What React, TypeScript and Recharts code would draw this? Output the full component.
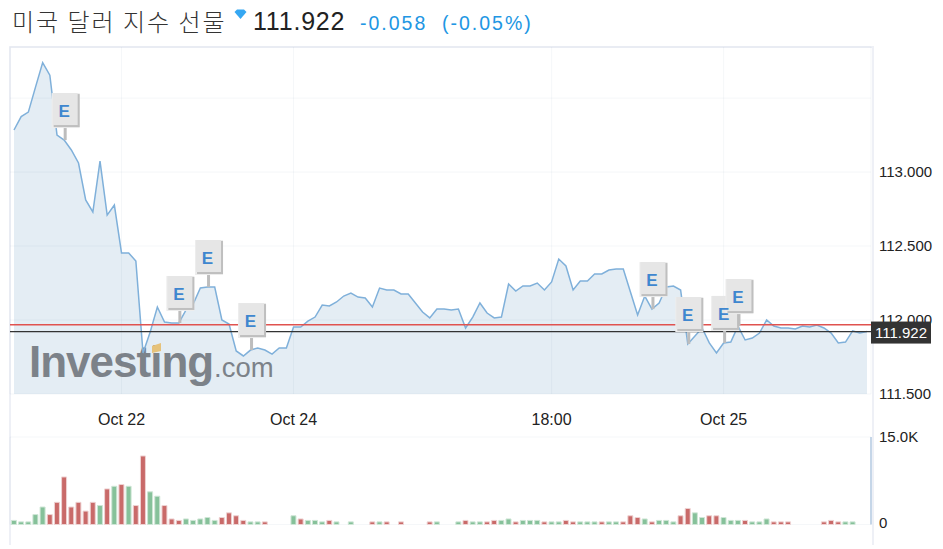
import React from "react";
import {
  Area,
  Bar,
  CartesianGrid,
  ComposedChart,
  Line,
  ReferenceDot,
  ReferenceLine,
  XAxis,
  YAxis,
} from "recharts";

const FONT = '"Liberation Sans", Arial, sans-serif';

const prices = [
  113.284, 113.375, 113.405, 113.574, 113.74, 113.655, 113.25, 113.216, 113.149, 113.061,
  112.811, 112.73, 113.074, 112.709, 112.777, 112.453, 112.453, 112.399, 111.777, 111.919,
  112.088, 111.986, 111.98, 111.98, 112.068, 112.108, 112.216, 112.223, 112.223, 112.0,
  111.973, 111.791, 111.757, 111.797, 111.811, 111.797, 111.77, 111.811, 111.811, 111.953,
  111.953, 111.993, 112.02, 112.101, 112.095, 112.122, 112.162, 112.182, 112.155, 112.149,
  112.088, 112.216, 112.203, 112.203, 112.176, 112.176, 112.115, 112.054, 112.014, 112.074,
  112.074, 112.068, 112.074, 111.946, 112.02, 112.115, 112.047, 112.014, 112.02, 112.243,
  112.196, 112.23, 112.23, 112.25, 112.203, 112.257, 112.412, 112.365, 112.203, 112.264,
  112.264, 112.311, 112.311, 112.338, 112.345, 112.345, 112.189, 112.034, 112.162, 112.074,
  112.115, 112.223, 112.23, 112.203, 111.838, 111.892, 111.946, 111.845, 111.777, 111.845,
  111.851, 111.959, 111.865, 111.878, 111.912, 112.0, 111.959, 111.946, 111.946, 111.939,
  111.959, 111.953, 111.966, 111.946, 111.912, 111.845, 111.851, 111.926, 111.912, 111.922,
];

const volumes = [
  700, 450, 450, 1700, 3000, 1700, 3800, 8150, 3000, 3800,
  2300, 3800, 3250, 6100, 6550, 6850, 6550, 3250, 11750, 5600,
  4850, 3250, 950, 700, 950, 700, 950, 1200, 700, 1200,
  2000, 1500, 700, 450, 450, 450, 0, 0, 0, 1500,
  950, 700, 700, 450, 700, 450, 0, 450, 0, 0,
  450, 450, 450, 0, 450, 0, 0, 0, 450, 450,
  0, 0, 450, 700, 450, 450, 450, 700, 700, 950,
  450, 700, 700, 700, 450, 450, 450, 700, 450, 450,
  450, 450, 450, 450, 450, 450, 1500, 1200, 950, 450,
  700, 700, 450, 1500, 2750, 2000, 1200, 1500, 1500, 1200,
  700, 700, 700, 450, 450, 950, 450, 450, 450, 0,
  0, 0, 0, 450, 700, 450, 450, 450, 0, 0,
];

// g = up bar, r = down bar, - = no trades
const volumeColors = (
  "gggggrrrrr" + "rrgrgrgrrg" + "grrrgggggr" + "rrrggr---g" +
  "rgggrg-g--" + "rgr-r---rg" + "--grggrrgg" + "rgggrggrrg" +
  "ggrggrrrgr" + "gggrrggrrg" + "ggrgggrrr-" + "---rrrgg--"
).split("");

const xTicks = [15, 39, 75, 99];
const xTickLabels = ["Oct 22", "Oct 24", "18:00", "Oct 25"];
const priceTicks = [111.5, 112, 112.5, 113, 113.5];
const volumeTicks = [0, 15000];
const earningsFlags = [7, 23, 27, 33, 89, 94, 99, 101];

const lastPrice = 111.922;
const prevClose = 111.968;

const priceRows = prices.map((price, i) => ({ i, price }));
const volumeRows = volumes.map((v, i) => ({
  i,
  up: volumeColors[i] === "g" && v > 0 ? v : null,
  down: volumeColors[i] === "r" && v > 0 ? v : null,
}));

const X_DOMAIN: [number, number] = [-0.558, 119.56];
const PRICE_DOMAIN: [number, number] = [111.5, 113.845];
const GRID = "#5a7a9a";

const formatX = (v: number) => xTickLabels[xTicks.indexOf(v)] ?? "";
const formatPrice = (v: number) => (v === 113.5 ? "" : v.toFixed(3));

const EarningsFlag = ({ cx, cy }: any) => (
  <g>
    <rect x={cx - 0.5} y={cy - 15} width={3} height={15} fill="#bdbdbd" />
    <rect x={cx - 12.5} y={cy - 47} width={28} height={35} fill="#ededed" />
    <rect x={cx - 10.5} y={cy - 46} width={26} height={33} fill="#bfbfbf" />
    <rect x={cx - 11.5} y={cy - 47} width={25} height={32} fill="#e6e6e6" />
  </g>
);

// letters go in a second pass so overlapping flags don't cut them
const EarningsLetter = ({ cx, cy }: any) => (
  <text
    x={cx}
    y={cy - 23}
    textAnchor="middle"
    fontFamily={FONT}
    fontWeight={700}
    fontSize={17}
    fill="#3f87cf"
  >
    E
  </text>
);

const LastPriceTag = ({ viewBox }: any) => {
  const y = viewBox.y;
  const x = viewBox.x + viewBox.width;
  return (
    <g>
      <rect x={x} y={y - 10} width={60} height={22} fill="#333333" />
      <text x={x + 30} y={y + 6} textAnchor="middle" fontFamily={FONT} fontSize={15} fill="#ffffff">
        111.922
      </text>
    </g>
  );
};

const VolumeTick = ({ x, y, payload }: any) => (
  <text x={x} y={payload.value === 0 ? y + 3 : y + 5} fontFamily={FONT} fontSize={15} fill="#222">
    {payload.value === 0 ? "0" : `${(payload.value / 1000).toFixed(1)}K`}
  </text>
);

const abs = (left: number, top: number): React.CSSProperties => ({
  position: "absolute",
  left,
  top,
  whiteSpace: "nowrap",
});

export default function App() {
  return (
    <div style={{ position: "fixed", left: 0, top: 0, width: 943, height: 549, overflow: "hidden", background: "#fff" }}>
      {/* title row */}
      <div style={{ ...abs(12, 3), fontFamily: '"Noto Sans CJK KR"', fontSize: 24, fontWeight: 300, color: "#333", letterSpacing: 2 }}>
        미국 달러 지수 선물
      </div>
      <svg style={abs(234, 9)} width={13} height={11}>
        <path d="M0.5 3 L3 0.5 L10 0.5 L12.5 3 L6.5 10 Z" fill="#35a7f2" />
      </svg>
      <div style={{ ...abs(253, 7), fontFamily: FONT, fontSize: 25, color: "#222", letterSpacing: 0.8 }}>111.922</div>
      <div style={{ ...abs(360, 12), fontFamily: FONT, fontSize: 19.5, color: "#2196e3", letterSpacing: 2 }}>-0.058</div>
      <div style={{ ...abs(442, 12), fontFamily: FONT, fontSize: 19.5, color: "#2196e3", letterSpacing: 2 }}>(-0.05%)</div>

      {/* frame */}
      <div style={{ ...abs(9, 46), width: 861, height: 497, borderLeft: "2px solid #eef0f6", borderTop: "2px solid #eef0f6", borderRight: "2px solid #eef0f6" }} />

      {/* area and axes go under the watermark */}
      <div style={abs(0, 0)}>
        <ComposedChart
          width={943}
          height={434}
          data={priceRows}
          margin={{ top: 47, right: 0, bottom: 0, left: 10 }}
        >
          <XAxis
            dataKey="i"
            type="number"
            domain={X_DOMAIN}
            allowDataOverflow
            ticks={xTicks}
            tickFormatter={formatX}
            axisLine={false}
            tickLine={false}
            tickSize={0}
            height={40}
            tickMargin={20}
            interval={0}
            tick={{ fontFamily: FONT, fontSize: 16, fill: "#222" }}
          />
          <YAxis
            orientation="right"
            width={72}
            domain={PRICE_DOMAIN}
            allowDataOverflow
            ticks={priceTicks}
            tickFormatter={formatPrice}
            axisLine={false}
            tickLine={false}
            tickSize={0}
            interval={0}
            tickMargin={8}
            tick={{ fontFamily: FONT, fontSize: 15, fill: "#222", textAnchor: "start" }}
          />
          <Area
            dataKey="price"
            type="linear"
            stroke="none"
            fill="#e4edf4"
            fillOpacity={1}
            isAnimationActive={false}
          />
        </ComposedChart>
      </div>

      {/* watermark */}
      <svg style={abs(0, 0)} width={943} height={434}>
        <text x={29} y={377} fontFamily={FONT} fontSize={44} fontWeight={700} fill="#7c8289" letterSpacing={-1}>
          Investing
        </text>
        <text x={214} y={377} fontFamily={FONT} fontSize={27.5} fill="#7c8289">
          .com
        </text>
        <path d="M152 346 L161 343 L161 351 L152 353 Z" fill="#e6c27a" />
      </svg>

      {/* line, levels and flags on top */}
      <div style={abs(0, 0)}>
        <ComposedChart
          width={943}
          height={434}
          data={priceRows}
          margin={{ top: 47, right: 72, bottom: 40, left: 10 }}
        >
          <CartesianGrid stroke={GRID} strokeOpacity={0.06} />
          <XAxis dataKey="i" type="number" domain={X_DOMAIN} allowDataOverflow ticks={xTicks} interval={0} hide />
          <YAxis domain={PRICE_DOMAIN} allowDataOverflow ticks={priceTicks} interval={0} hide />
          <Line
            dataKey="price"
            type="linear"
            stroke="#7fb0da"
            strokeWidth={1.5}
            dot={false}
            isAnimationActive={false}
          />
          <ReferenceLine y={prevClose} stroke="#e0524f" strokeWidth={1.5} />
          <ReferenceLine y={lastPrice} stroke="#333333" strokeWidth={1.2} label={<LastPriceTag />} />
          {earningsFlags.map((i) => (
            <ReferenceDot key={i} x={i} y={prices[i]} r={0} shape={<EarningsFlag />} />
          ))}
          {earningsFlags.map((i) => (
            <ReferenceDot key={`e${i}`} x={i} y={prices[i]} r={0} shape={<EarningsLetter />} />
          ))}
        </ComposedChart>
      </div>

      <div style={abs(0, 427)}>
        <ComposedChart
          width={943}
          height={122}
          data={volumeRows}
          margin={{ top: 10, right: 0, bottom: 24.5, left: 10 }}
        >
          <CartesianGrid stroke={GRID} strokeOpacity={0.06} />
          <XAxis
            dataKey="i"
            type="number"
            domain={X_DOMAIN}
            allowDataOverflow
            ticks={xTicks}
            tick={false}
            axisLine={false}
            tickLine={false}
            height={0}
          />
          <YAxis
            orientation="right"
            width={72}
            domain={[0, 15000]}
            ticks={volumeTicks}
            axisLine={{ stroke: "#c5d6e8", strokeWidth: 2 }}
            tickLine={false}
            tickSize={0}
            interval={0}
            tickMargin={8}
            tick={<VolumeTick />}
          />
          <Bar dataKey="up" stackId="v" barSize={5} fill="#86c19a" stroke="#cfe6d6" isAnimationActive={false} />
          <Bar dataKey="down" stackId="v" barSize={5} fill="#c96a69" stroke="#eed3d3" isAnimationActive={false} />
        </ComposedChart>
      </div>
    </div>
  );
}
